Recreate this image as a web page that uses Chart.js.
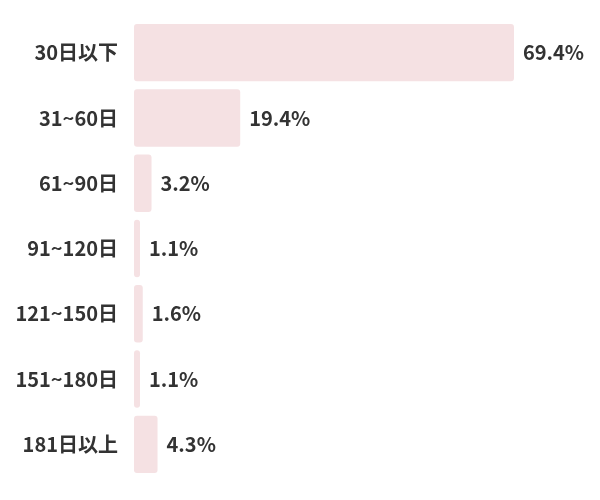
<!DOCTYPE html>
<html>
<head>
<meta charset="utf-8">
<script src="https://cdn.jsdelivr.net/npm/chart.js@4"></script>
<style>
  html, body { margin: 0; padding: 0; background: #fff; }
  .chart-container { width: 600px; height: 500px; }
</style>
</head>
<body>
<div class="chart-container">
  <canvas id="chart"></canvas>
</div>
<script>
const categories = ['30日以下', '31~60日', '61~90日', '91~120日', '121~150日', '151~180日', '181日以上'];
const shares = [69.4, 19.4, 3.2, 1.1, 1.6, 1.1, 4.3];

const FONT = '"Noto Sans CJK JP", "Noto Sans", sans-serif';

// draws the percentage right after each bar
const valueLabels = {
    id: 'valueLabels',
    afterDatasetsDraw(chart) {
        const ctx = chart.ctx;
        const meta = chart.getDatasetMeta(0);
        ctx.save();
        ctx.font = 'bold 20px ' + FONT;
        ctx.fillStyle = '#333333';
        ctx.textAlign = 'left';
        ctx.textBaseline = 'middle';
        meta.data.forEach((bar, i) => {
            ctx.fillText(shares[i].toFixed(1) + '%', bar.x + 9, bar.y);
        });
        ctx.restore();
    }
};

new Chart(document.getElementById('chart'), {
    type: 'bar',
    data: {
        labels: categories,
        datasets: [{
            data: shares,
            backgroundColor: '#f5e1e3',
            borderRadius: 3,
            borderSkipped: false,
            barPercentage: 0.88,
            categoryPercentage: 1
        }]
    },
    options: {
        indexAxis: 'y',
        responsive: true,
        maintainAspectRatio: false,
        animation: false,
        layout: { padding: { top: 19, bottom: 23, left: 0, right: 28 } },
        plugins: {
            legend: { display: false },
            tooltip: { enabled: false }
        },
        scales: {
            x: {
                min: 0,
                max: 80,
                display: false
            },
            y: {
                grid: { display: false },
                border: { display: false },
                ticks: {
                    color: '#333333',
                    padding: 8,
                    font: { family: FONT, size: 20, weight: 'bold' }
                },
                afterFit(scale) { scale.width = 134; }
            }
        }
    },
    plugins: [valueLabels]
});
</script>
</body>
</html>
